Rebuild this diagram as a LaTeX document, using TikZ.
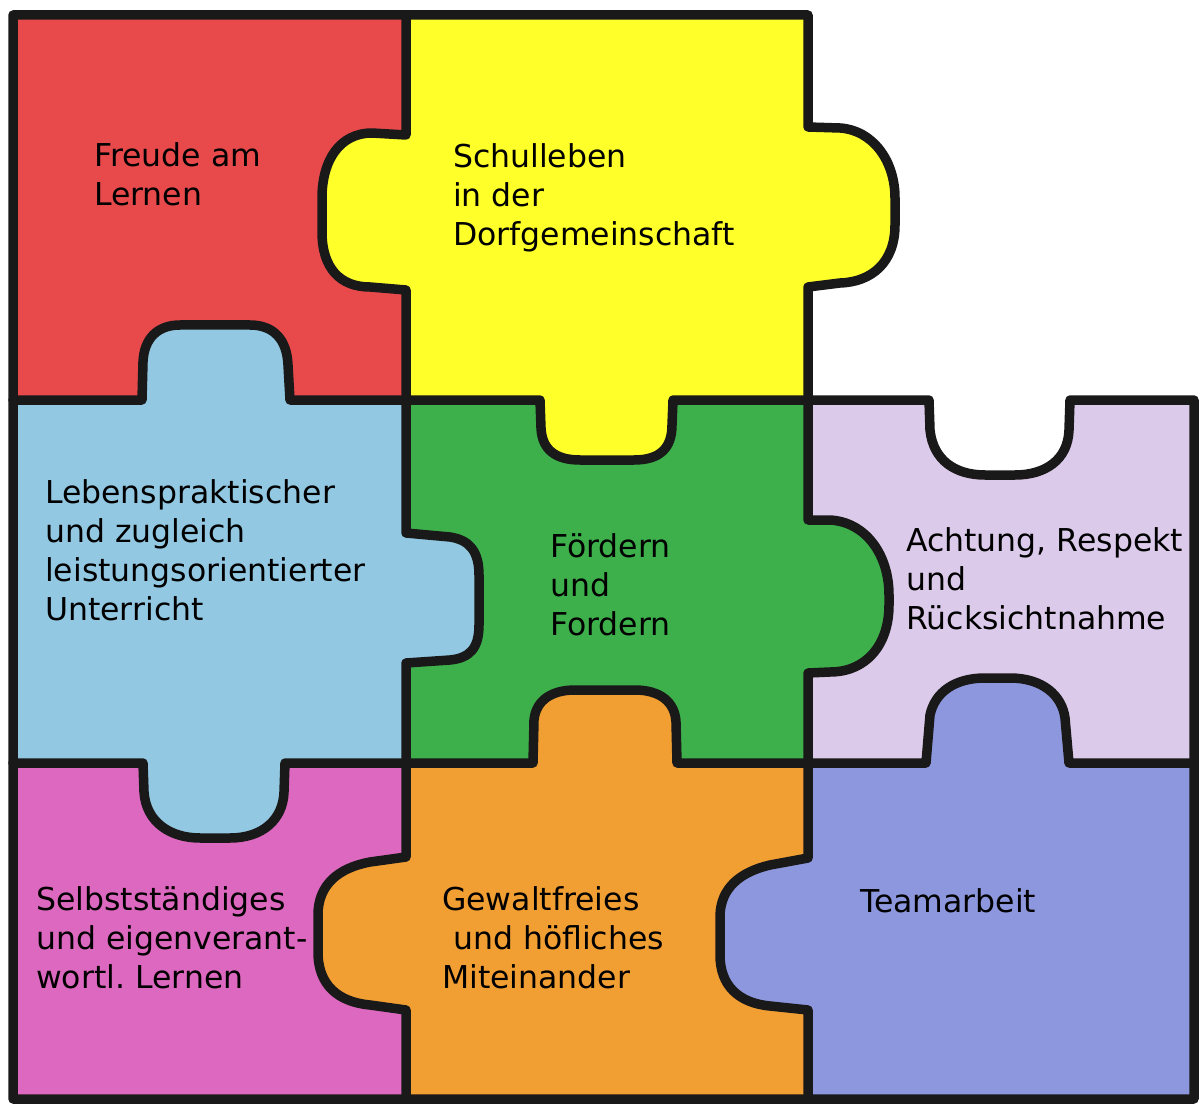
\documentclass[tikz,border=0pt]{standalone}
\usepackage{fontspec}
\setmainfont{DejaVu Sans}
\frenchspacing
\definecolor{cred}{HTML}{E84A4C}
\definecolor{cyellow}{HTML}{FFFF2A}
\definecolor{cblue}{HTML}{92C8E2}
\definecolor{cgreen}{HTML}{3DB04B}
\definecolor{cpurple}{HTML}{DCCAEA}
\definecolor{cpink}{HTML}{DD68BF}
\definecolor{corange}{HTML}{F19F33}
\definecolor{cviolet}{HTML}{8D97DD}
% tab / notch shapes along the cut lines
\def\eA{-- (406,135) -- (372,133) .. controls (340,133) and (322,160) .. (322,198) -- (322,232) .. controls (322,268) and (340,287) .. (370,287) -- (406,290)}
\def\eB{-- (808,127) -- (840,128) .. controls (872,130) and (895,160) .. (895,198) -- (895,225) .. controls (895,262) and (872,282) .. (840,283) -- (808,287)}
\def\eC{-- (142,400) -- (143,362) .. controls (144,338) and (158,325) .. (180,325) -- (250,325) .. controls (274,325) and (287,340) .. (288,365) -- (290,400)}
\def\eD{-- (540,400) -- (541,428) .. controls (542,450) and (556,460) .. (580,460) -- (634,460) .. controls (660,460) and (672,448) .. (672,425) -- (673,400)}
\def\eE{-- (929,400) -- (930,430) .. controls (933,460) and (955,475) .. (985,475) -- (1015,475) .. controls (1045,475) and (1068,460) .. (1069,430) -- (1070,400)}
\def\eF{-- (406,533) -- (450,537) .. controls (470,540) and (479,552) .. (479,575) -- (479,625) .. controls (479,648) and (470,658) .. (450,660) -- (406,663)}
\def\eG{-- (808,520) -- (830,520) .. controls (866,522) and (889,555) .. (889,595) -- (889,605) .. controls (889,645) and (866,672) .. (830,672) -- (808,673)}
\def\eH{-- (143,763) -- (144,792) .. controls (146,822) and (170,838) .. (200,838) -- (230,838) .. controls (262,838) and (283,820) .. (284,792) -- (285,763)}
\def\eI{-- (533,763) -- (534,720) .. controls (536,700) and (552,690) .. (575,690) -- (635,690) .. controls (660,690) and (675,702) .. (676,722) -- (677,763)}
\def\eJ{-- (926,763) -- (930,715) .. controls (935,692) and (955,678) .. (985,678) -- (1010,678) .. controls (1042,678) and (1062,695) .. (1065,718) -- (1069,763)}
\def\eK{-- (406,857) -- (370,862) .. controls (338,868) and (318,885) .. (318,915) -- (318,952) .. controls (318,985) and (338,1002) .. (370,1005) -- (406,1010)}
\def\eL{-- (808,858) -- (770,865) .. controls (740,872) and (721,888) .. (720,915) -- (720,955) .. controls (720,985) and (738,1003) .. (770,1006) -- (808,1010)}
\begin{document}
\begin{tikzpicture}[x=1pt,y=-1pt,
  cut/.style={line width=9.5pt,line join=round,line cap=round,draw=black!90},
  label/.style={anchor=base west,inner sep=0pt,align=left,font=\fontsize{31.5}{39}\selectfont}]
\useasboundingbox (0,0) rectangle (1200,1107);
\fill[white] (0,0) rectangle (1200,1107);
% cells
\fill[cred] (13,15) rectangle (406,400);
\fill[cyellow] (406,15) rectangle (808,400);
\fill[cblue] (13,400) rectangle (406,763);
\fill[cgreen] (406,400) rectangle (808,763);
\fill[cpurple] (808,400) rectangle (1194,763);
\fill[cpink] (13,763) rectangle (406,1099);
\fill[corange] (406,763) rectangle (808,1099);
\fill[cviolet] (808,763) rectangle (1194,1099);
% tabs
\fill[cyellow] (406,135) \eA -- cycle;
\fill[cyellow] (808,127) \eB -- cycle;
\fill[cyellow] (540,400) \eD -- cycle;
\fill[cblue] (142,400) \eC -- cycle;
\fill[cblue] (406,533) \eF -- cycle;
\fill[cblue] (143,763) \eH -- cycle;
\fill[cgreen] (808,520) \eG -- cycle;
\fill[white] (929,400) \eE -- cycle;
\fill[corange] (533,763) \eI -- cycle;
\fill[corange] (406,857) \eK -- cycle;
\fill[cviolet] (926,763) \eJ -- cycle;
\fill[cviolet] (808,858) \eL -- cycle;
% outlines
\draw[cut] (13,15) -- (808,15) \eB -- (808,400) \eE -- (1194,400) -- (1194,1099) -- (13,1099) -- cycle;
\draw[cut] (406,15) \eA -- (406,400) \eF -- (406,763) \eK -- (406,1099);
\draw[cut] (808,400) \eG -- (808,763) \eL -- (808,1099);
\draw[cut] (13,400) \eC -- (406,400) \eD -- (808,400);
\draw[cut] (13,763) \eH -- (406,763) \eI -- (808,763) \eJ -- (1194,763);
% texts (anchor = baseline of the last line)
\node[label] (t1) at (94,206) {Freude am\\Lernen};
\node[label] (t2) at (453,246) {Schulleben\\in der\\Dorfgemeinschaft};
\node[label] (t3) at (45,620) {Lebenspraktischer\\und zugleich\\leistungsorientierter\\Unterricht};
\node[label] (t4) at (550,635) {Fördern\\und\\Fordern};
\node[label] (t5) at (906,629) {Achtung, Respekt\\und\\Rücksichtnahme};
\node[label] (t6) at (36,988) {Selbstständiges\\und eigenverant-\\wortl. Lernen};
\node[label] (t7) at (442,988) {Gewaltfreies\\\hspace*{11pt}und höfliches\\Miteinander};
\node[label] (t8) at (860,912) {Teamarbeit};
\end{tikzpicture}
\end{document}
